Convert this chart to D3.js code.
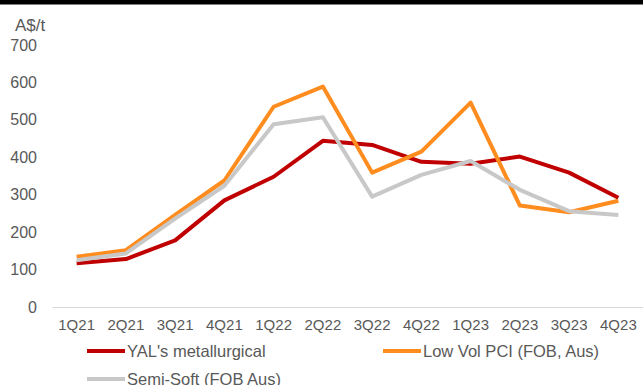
<!DOCTYPE html>
<html>
<head>
<meta charset="utf-8">
<script src="https://cdn.jsdelivr.net/npm/d3@7"></script>
<style>
  html, body { margin: 0; padding: 0; background: #fff; }
  svg { display: block; font-family: "Liberation Sans", Arial, sans-serif; }
</style>
</head>
<body>
<svg id="chart" width="643" height="385"></svg>
<script>
// Quarterly coal prices, A$/t
const quarters = ["1Q21","2Q21","3Q21","4Q21","1Q22","2Q22","3Q22","4Q22","1Q23","2Q23","3Q23","4Q23"];
const yalMetallurgical = [117, 128, 178, 285, 348, 444, 433, 388, 383, 402, 359, 292];
const lowVolPCI        = [134, 152, 246, 338, 535, 589, 359, 415, 546, 271, 253, 284];
const semiSoft         = [125, 143, 236, 324, 488, 507, 295, 353, 390, 313, 256, 246];
const yTicks = [0, 100, 200, 300, 400, 500, 600, 700];

const seriesNames  = ["YAL's metallurgical", "Low Vol PCI (FOB, Aus)", "Semi-Soft (FOB Aus)"];
const seriesColors = ["#C00000", "#FF8C1E", "#C8C8C8"];

const series = [
  { name: seriesNames[0], values: yalMetallurgical, color: seriesColors[0] },
  { name: seriesNames[1], values: lowVolPCI,        color: seriesColors[1] },
  { name: seriesNames[2], values: semiSoft,         color: seriesColors[2] }
];

const svg = d3.select("#chart");
const W = 643;
const textColor = "#595959";

// Top rule
svg.append("rect").attr("x", 0).attr("y", 0).attr("width", W).attr("height", 4.5).attr("fill", "#000");

const x = d3.scaleBand().domain(quarters).range([52, 643]);
const y = d3.scaleLinear().domain([0, 700]).range([307, 45]);

// Unit label
svg.append("text")
  .attr("x", 15).attr("y", 31)
  .attr("fill", textColor).attr("font-size", 17)
  .text("A$/t");

// Y axis labels
const yAxis = d3.axisLeft(y).tickValues(yTicks).tickSize(0).tickPadding(0);
const gy = svg.append("g").attr("transform", "translate(37,0)").call(yAxis);
gy.select(".domain").remove();
gy.selectAll("text")
  .attr("fill", textColor)
  .attr("font-size", 16)
  .attr("font-family", "Liberation Sans, Arial, sans-serif");

// X axis
const xAxis = d3.axisBottom(x).tickSize(0).tickPadding(12);
const gx = svg.append("g").attr("transform", "translate(0,307)").call(xAxis);
gx.select(".domain").attr("stroke", "#D9D9D9").attr("stroke-width", 1.2);
gx.selectAll("text")
  .attr("fill", textColor)
  .attr("font-size", 15)
  .attr("font-family", "Liberation Sans, Arial, sans-serif");

// Lines
const line = d3.line()
  .x((d, i) => x(quarters[i]) + x.bandwidth() / 2)
  .y(d => y(d));

svg.append("g").selectAll("path")
  .data(series)
  .join("path")
  .attr("fill", "none")
  .attr("stroke", d => d.color)
  .attr("stroke-width", 4)
  .attr("stroke-linejoin", "round")
  .attr("d", d => line(d.values));

// Legend
const legendItems = [
  { s: series[0], x: 87,  y: 351 },
  { s: series[1], x: 383, y: 351 },
  { s: series[2], x: 87,  y: 379 }
];
const lg = svg.append("g");
legendItems.forEach(it => {
  lg.append("line")
    .attr("x1", it.x).attr("x2", it.x + 38)
    .attr("y1", it.y).attr("y2", it.y)
    .attr("stroke", it.s.color).attr("stroke-width", 4);
  lg.append("text")
    .attr("x", it.x + 40).attr("y", it.y)
    .attr("dy", "0.35em")
    .attr("fill", textColor).attr("font-size", 16.5)
    .text(it.s.name);
});
</script>
</body>
</html>
